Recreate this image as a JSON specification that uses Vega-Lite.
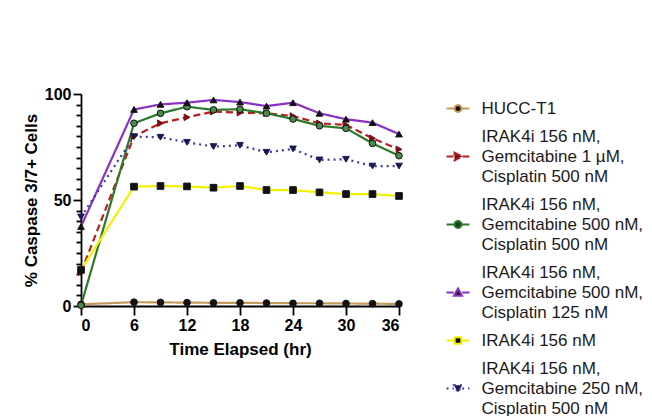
{
  "$schema": "https://vega.github.io/schema/vega-lite/v6.json",
  "width": 318,
  "height": 212,
  "autosize": {"type": "none"},
  "padding": {"left": 81, "top": 94, "right": 253, "bottom": 110},
  "background": "white",
  "config": {
    "font": "Liberation Sans",
    "view": {"stroke": null},
    "style": {"guide-label": {"lineHeight": 20}},
    "axis": {
      "domainColor": "#000", "domainWidth": 1.8, "tickColor": "#000", "tickWidth": 1.8,
      "labelColor": "#000", "titleColor": "#000", "labelFont": "Liberation Sans", "titleFont": "Liberation Sans",
      "labelFontWeight": "bold", "labelFontSize": 16, "titleFontSize": 17, "titleFontWeight": "bold", "grid": false
    },
    "legend": {"symbolOpacity": 1}
  },
  "data": {"values": [
    {"series": "HUCC-T1", "time": 0, "pct": 0.8},
    {"series": "HUCC-T1", "time": 6, "pct": 1.8},
    {"series": "HUCC-T1", "time": 9, "pct": 1.7},
    {"series": "HUCC-T1", "time": 12, "pct": 1.6},
    {"series": "HUCC-T1", "time": 15, "pct": 1.5},
    {"series": "HUCC-T1", "time": 18, "pct": 1.5},
    {"series": "HUCC-T1", "time": 21, "pct": 1.4},
    {"series": "HUCC-T1", "time": 24, "pct": 1.3},
    {"series": "HUCC-T1", "time": 27, "pct": 1.3},
    {"series": "HUCC-T1", "time": 30, "pct": 1.2},
    {"series": "HUCC-T1", "time": 33, "pct": 1.1},
    {"series": "HUCC-T1", "time": 36, "pct": 1.0},
    {"series": "IRAK4i 156 nM,\nGemcitabine 1 µM,\nCisplatin 500 nM", "time": 0, "pct": 16},
    {"series": "IRAK4i 156 nM,\nGemcitabine 1 µM,\nCisplatin 500 nM", "time": 6, "pct": 80},
    {"series": "IRAK4i 156 nM,\nGemcitabine 1 µM,\nCisplatin 500 nM", "time": 9, "pct": 86.2},
    {"series": "IRAK4i 156 nM,\nGemcitabine 1 µM,\nCisplatin 500 nM", "time": 12, "pct": 89},
    {"series": "IRAK4i 156 nM,\nGemcitabine 1 µM,\nCisplatin 500 nM", "time": 15, "pct": 91.7},
    {"series": "IRAK4i 156 nM,\nGemcitabine 1 µM,\nCisplatin 500 nM", "time": 18, "pct": 91.2},
    {"series": "IRAK4i 156 nM,\nGemcitabine 1 µM,\nCisplatin 500 nM", "time": 21, "pct": 90.9},
    {"series": "IRAK4i 156 nM,\nGemcitabine 1 µM,\nCisplatin 500 nM", "time": 24, "pct": 89.6},
    {"series": "IRAK4i 156 nM,\nGemcitabine 1 µM,\nCisplatin 500 nM", "time": 27, "pct": 86.2},
    {"series": "IRAK4i 156 nM,\nGemcitabine 1 µM,\nCisplatin 500 nM", "time": 30, "pct": 85.4},
    {"series": "IRAK4i 156 nM,\nGemcitabine 1 µM,\nCisplatin 500 nM", "time": 33, "pct": 79.1},
    {"series": "IRAK4i 156 nM,\nGemcitabine 1 µM,\nCisplatin 500 nM", "time": 36, "pct": 73.9},
    {"series": "IRAK4i 156 nM,\nGemcitabine 500 nM,\nCisplatin 500 nM", "time": 0, "pct": 0.3},
    {"series": "IRAK4i 156 nM,\nGemcitabine 500 nM,\nCisplatin 500 nM", "time": 6, "pct": 86.2},
    {"series": "IRAK4i 156 nM,\nGemcitabine 500 nM,\nCisplatin 500 nM", "time": 9, "pct": 90.9},
    {"series": "IRAK4i 156 nM,\nGemcitabine 500 nM,\nCisplatin 500 nM", "time": 12, "pct": 94},
    {"series": "IRAK4i 156 nM,\nGemcitabine 500 nM,\nCisplatin 500 nM", "time": 15, "pct": 92.5},
    {"series": "IRAK4i 156 nM,\nGemcitabine 500 nM,\nCisplatin 500 nM", "time": 18, "pct": 92.8},
    {"series": "IRAK4i 156 nM,\nGemcitabine 500 nM,\nCisplatin 500 nM", "time": 21, "pct": 90.9},
    {"series": "IRAK4i 156 nM,\nGemcitabine 500 nM,\nCisplatin 500 nM", "time": 24, "pct": 88.2},
    {"series": "IRAK4i 156 nM,\nGemcitabine 500 nM,\nCisplatin 500 nM", "time": 27, "pct": 85},
    {"series": "IRAK4i 156 nM,\nGemcitabine 500 nM,\nCisplatin 500 nM", "time": 30, "pct": 83.8},
    {"series": "IRAK4i 156 nM,\nGemcitabine 500 nM,\nCisplatin 500 nM", "time": 33, "pct": 76.7},
    {"series": "IRAK4i 156 nM,\nGemcitabine 500 nM,\nCisplatin 500 nM", "time": 36, "pct": 70.9},
    {"series": "IRAK4i 156 nM,\nGemcitabine 500 nM,\nCisplatin 125 nM", "time": 0, "pct": 37.5},
    {"series": "IRAK4i 156 nM,\nGemcitabine 500 nM,\nCisplatin 125 nM", "time": 6, "pct": 92.7},
    {"series": "IRAK4i 156 nM,\nGemcitabine 500 nM,\nCisplatin 125 nM", "time": 9, "pct": 95.1},
    {"series": "IRAK4i 156 nM,\nGemcitabine 500 nM,\nCisplatin 125 nM", "time": 12, "pct": 95.9},
    {"series": "IRAK4i 156 nM,\nGemcitabine 500 nM,\nCisplatin 125 nM", "time": 15, "pct": 97.2},
    {"series": "IRAK4i 156 nM,\nGemcitabine 500 nM,\nCisplatin 125 nM", "time": 18, "pct": 96.2},
    {"series": "IRAK4i 156 nM,\nGemcitabine 500 nM,\nCisplatin 125 nM", "time": 21, "pct": 94.3},
    {"series": "IRAK4i 156 nM,\nGemcitabine 500 nM,\nCisplatin 125 nM", "time": 24, "pct": 95.9},
    {"series": "IRAK4i 156 nM,\nGemcitabine 500 nM,\nCisplatin 125 nM", "time": 27, "pct": 90.9},
    {"series": "IRAK4i 156 nM,\nGemcitabine 500 nM,\nCisplatin 125 nM", "time": 30, "pct": 88.1},
    {"series": "IRAK4i 156 nM,\nGemcitabine 500 nM,\nCisplatin 125 nM", "time": 33, "pct": 86.5},
    {"series": "IRAK4i 156 nM,\nGemcitabine 500 nM,\nCisplatin 125 nM", "time": 36, "pct": 81.1},
    {"series": "IRAK4i 156 nM", "time": 0, "pct": 17},
    {"series": "IRAK4i 156 nM", "time": 6, "pct": 56.3},
    {"series": "IRAK4i 156 nM", "time": 9, "pct": 56.6},
    {"series": "IRAK4i 156 nM", "time": 12, "pct": 56.4},
    {"series": "IRAK4i 156 nM", "time": 15, "pct": 55.8},
    {"series": "IRAK4i 156 nM", "time": 18, "pct": 56.6},
    {"series": "IRAK4i 156 nM", "time": 21, "pct": 54.7},
    {"series": "IRAK4i 156 nM", "time": 24, "pct": 54.7},
    {"series": "IRAK4i 156 nM", "time": 27, "pct": 53.6},
    {"series": "IRAK4i 156 nM", "time": 30, "pct": 52.8},
    {"series": "IRAK4i 156 nM", "time": 33, "pct": 52.8},
    {"series": "IRAK4i 156 nM", "time": 36, "pct": 51.9},
    {"series": "IRAK4i 156 nM,\nGemcitabine 250 nM,\nCisplatin 500 nM", "time": 0, "pct": 42},
    {"series": "IRAK4i 156 nM,\nGemcitabine 250 nM,\nCisplatin 500 nM", "time": 6, "pct": 79.9},
    {"series": "IRAK4i 156 nM,\nGemcitabine 250 nM,\nCisplatin 500 nM", "time": 9, "pct": 79.6},
    {"series": "IRAK4i 156 nM,\nGemcitabine 250 nM,\nCisplatin 500 nM", "time": 12, "pct": 77.2},
    {"series": "IRAK4i 156 nM,\nGemcitabine 250 nM,\nCisplatin 500 nM", "time": 15, "pct": 75.2},
    {"series": "IRAK4i 156 nM,\nGemcitabine 250 nM,\nCisplatin 500 nM", "time": 18, "pct": 75.8},
    {"series": "IRAK4i 156 nM,\nGemcitabine 250 nM,\nCisplatin 500 nM", "time": 21, "pct": 72.5},
    {"series": "IRAK4i 156 nM,\nGemcitabine 250 nM,\nCisplatin 500 nM", "time": 24, "pct": 74.1},
    {"series": "IRAK4i 156 nM,\nGemcitabine 250 nM,\nCisplatin 500 nM", "time": 27, "pct": 68.9},
    {"series": "IRAK4i 156 nM,\nGemcitabine 250 nM,\nCisplatin 500 nM", "time": 30, "pct": 69.2},
    {"series": "IRAK4i 156 nM,\nGemcitabine 250 nM,\nCisplatin 500 nM", "time": 33, "pct": 66},
    {"series": "IRAK4i 156 nM,\nGemcitabine 250 nM,\nCisplatin 500 nM", "time": 36, "pct": 66}
  ]},
  "encoding": {
    "x": {"field": "time", "type": "quantitative",
      "scale": {"domain": [0, 36], "nice": false},
      "axis": {"values": [0, 6, 12, 18, 24, 30, 36], "tickSize": 9, "labelPadding": 2, "title": "Time Elapsed (hr)", "titlePadding": 8}},
    "y": {"field": "pct", "type": "quantitative",
      "scale": {"domain": [0, 100], "nice": false},
      "axis": {"values": [0,5,10,15,20,25,30,35,40,45,50,55,60,65,70,75,80,85,90,95,100],
        "labelExpr": "datum.value % 50 === 0 ? datum.label : ''",
        "tickSize": {"condition": {"test": "datum.value % 50 === 0", "value": 8}, "value": 5},
        "labelPadding": 2, "title": "% Caspase 3/7+ Cells", "titlePadding": 4}}
  },
  "resolve": {"scale": {"color": "independent", "strokeDash": "independent", "shape": "independent", "fill": "independent", "stroke": "independent"}},
  "layer": [
    {
      "mark": {"type": "line", "strokeWidth": 2.2},
      "encoding": {
        "color": {"field": "series", "type": "nominal",
          "scale": {"domain": ["HUCC-T1", "IRAK4i 156 nM,\nGemcitabine 1 µM,\nCisplatin 500 nM", "IRAK4i 156 nM,\nGemcitabine 500 nM,\nCisplatin 500 nM", "IRAK4i 156 nM,\nGemcitabine 500 nM,\nCisplatin 125 nM", "IRAK4i 156 nM", "IRAK4i 156 nM,\nGemcitabine 250 nM,\nCisplatin 500 nM"],
            "range": ["#c49a5c", "#b5211f", "#2a7a2a", "#8b2fc9", "#f2f200", "#3a3aa8"]},
          "legend": null},
        "strokeDash": {"field": "series", "type": "nominal",
          "scale": {"domain": ["HUCC-T1", "IRAK4i 156 nM,\nGemcitabine 1 µM,\nCisplatin 500 nM", "IRAK4i 156 nM,\nGemcitabine 500 nM,\nCisplatin 500 nM", "IRAK4i 156 nM,\nGemcitabine 500 nM,\nCisplatin 125 nM", "IRAK4i 156 nM", "IRAK4i 156 nM,\nGemcitabine 250 nM,\nCisplatin 500 nM"],
            "range": [[1, 0], [7, 4], [1, 0], [1, 0], [1, 0], [2, 4]]},
          "legend": null}
      }
    },
    {
      "mark": {"type": "point", "filled": true, "size": 44, "opacity": 1, "strokeWidth": 1},
      "encoding": {
        "shape": {"field": "series", "type": "nominal",
          "scale": {"domain": ["HUCC-T1", "IRAK4i 156 nM,\nGemcitabine 1 µM,\nCisplatin 500 nM", "IRAK4i 156 nM,\nGemcitabine 500 nM,\nCisplatin 500 nM", "IRAK4i 156 nM,\nGemcitabine 500 nM,\nCisplatin 125 nM", "IRAK4i 156 nM", "IRAK4i 156 nM,\nGemcitabine 250 nM,\nCisplatin 500 nM"],
            "range": ["circle", "triangle-right", "circle", "triangle-up", "square", "triangle-down"]},
          "legend": null},
        "fill": {"field": "series", "type": "nominal",
          "scale": {"domain": ["HUCC-T1", "IRAK4i 156 nM,\nGemcitabine 1 µM,\nCisplatin 500 nM", "IRAK4i 156 nM,\nGemcitabine 500 nM,\nCisplatin 500 nM", "IRAK4i 156 nM,\nGemcitabine 500 nM,\nCisplatin 125 nM", "IRAK4i 156 nM", "IRAK4i 156 nM,\nGemcitabine 250 nM,\nCisplatin 500 nM"],
            "range": ["#111111", "#7a1010", "#4a8a4a", "#111111", "#111111", "#1a1a50"]},
          "legend": null},
        "stroke": {"field": "series", "type": "nominal",
          "scale": {"domain": ["HUCC-T1", "IRAK4i 156 nM,\nGemcitabine 1 µM,\nCisplatin 500 nM", "IRAK4i 156 nM,\nGemcitabine 500 nM,\nCisplatin 500 nM", "IRAK4i 156 nM,\nGemcitabine 500 nM,\nCisplatin 125 nM", "IRAK4i 156 nM", "IRAK4i 156 nM,\nGemcitabine 250 nM,\nCisplatin 500 nM"],
            "range": ["#111111", "#7a1010", "#111111", "#111111", "#111111", "#1a1a50"]},
          "legend": null}
      }
    },
    {
      "transform": [{"filter": "datum.time < 0"}],
      "mark": {"type": "point", "filled": false, "size": 529, "strokeWidth": 2},
      "encoding": {
        "color": {"field": "series", "type": "nominal",
          "scale": {"domain": ["HUCC-T1", "IRAK4i 156 nM,\nGemcitabine 1 µM,\nCisplatin 500 nM", "IRAK4i 156 nM,\nGemcitabine 500 nM,\nCisplatin 500 nM", "IRAK4i 156 nM,\nGemcitabine 500 nM,\nCisplatin 125 nM", "IRAK4i 156 nM", "IRAK4i 156 nM,\nGemcitabine 250 nM,\nCisplatin 500 nM"],
            "range": ["#c49a5c", "#b5211f", "#2a7a2a", "#8b2fc9", "#f2f200", "#3a3aa8"]},
          "legend": {"orient": "none", "legendX": 364.5, "legendY": 2, "title": null, "symbolSize": 529, "symbolStrokeWidth": 2,
            "labelFontSize": 17, "labelFont": "Liberation Sans", "labelColor": "#1a1a1a", "labelLimit": 400, "labelOffset": 11, "rowPadding": 7,
            "labelExpr": "split(datum.label, '\\n')"}},
        "fill": {"field": "series", "type": "nominal",
          "scale": {"domain": ["HUCC-T1", "IRAK4i 156 nM,\nGemcitabine 1 µM,\nCisplatin 500 nM", "IRAK4i 156 nM,\nGemcitabine 500 nM,\nCisplatin 500 nM", "IRAK4i 156 nM,\nGemcitabine 500 nM,\nCisplatin 125 nM", "IRAK4i 156 nM", "IRAK4i 156 nM,\nGemcitabine 250 nM,\nCisplatin 500 nM"],
            "range": ["#111111", "#6a0e0e", "#1e3e1e", "#111111", "#111111", "#1a1a50"]},
          "legend": {"orient": "none", "legendX": 364.5, "legendY": 2, "title": null, "symbolSize": 529, "symbolStrokeWidth": 2,
            "labelFontSize": 17, "labelFont": "Liberation Sans", "labelColor": "#1a1a1a", "labelLimit": 400, "labelOffset": 11, "rowPadding": 7,
            "labelExpr": "split(datum.label, '\\n')"}},
        "strokeDash": {"field": "series", "type": "nominal",
          "scale": {"domain": ["HUCC-T1", "IRAK4i 156 nM,\nGemcitabine 1 µM,\nCisplatin 500 nM", "IRAK4i 156 nM,\nGemcitabine 500 nM,\nCisplatin 500 nM", "IRAK4i 156 nM,\nGemcitabine 500 nM,\nCisplatin 125 nM", "IRAK4i 156 nM", "IRAK4i 156 nM,\nGemcitabine 250 nM,\nCisplatin 500 nM"],
            "range": [[1, 0], [7, 4], [1, 0], [1, 0], [1, 0], [2, 4]]},
          "legend": {"orient": "none", "legendX": 364.5, "legendY": 2, "title": null, "symbolSize": 529, "symbolStrokeWidth": 2,
            "labelFontSize": 17, "labelFont": "Liberation Sans", "labelColor": "#1a1a1a", "labelLimit": 400, "labelOffset": 11, "rowPadding": 7,
            "labelExpr": "split(datum.label, '\\n')"}},
        "shape": {"field": "series", "type": "nominal",
          "scale": {"domain": ["HUCC-T1", "IRAK4i 156 nM,\nGemcitabine 1 µM,\nCisplatin 500 nM", "IRAK4i 156 nM,\nGemcitabine 500 nM,\nCisplatin 500 nM", "IRAK4i 156 nM,\nGemcitabine 500 nM,\nCisplatin 125 nM", "IRAK4i 156 nM", "IRAK4i 156 nM,\nGemcitabine 250 nM,\nCisplatin 500 nM"],
            "range": [
              "M-1,0H-0.31M0.31,0H1M0.3,0A0.3,0.3,0,1,1,-0.3,0A0.3,0.3,0,1,1,0.3,0Z",
              "M-1,1.739H-0.32M0.38,1.739H1M-0.3,1.399L0.36,1.739L-0.3,2.079Z",
              "M-1,1.739H-0.31M0.31,1.739H1M0.3,1.739A0.3,0.3,0,1,1,-0.3,1.739A0.3,0.3,0,1,1,0.3,1.739Z",
              "M-1,1.739H-0.36M0.36,1.739H1M0,1.389L0.35,2.019L-0.35,2.019Z",
              "M-1,0H-0.31M0.31,0H1M-0.29,-0.29L0.29,-0.29L0.29,0.29L-0.29,0.29Z",
              "M-1,1.739H-0.36M0.36,1.739H1M-0.35,1.459L0.35,1.459L0,2.089Z"
            ]},
          "legend": {"orient": "none", "legendX": 364.5, "legendY": 2, "title": null, "symbolSize": 529, "symbolStrokeWidth": 2,
            "labelFontSize": 17, "labelFont": "Liberation Sans", "labelColor": "#1a1a1a", "labelLimit": 400, "labelOffset": 11, "rowPadding": 7,
            "labelExpr": "split(datum.label, '\\n')"}}
      }
    }
  ]
}
